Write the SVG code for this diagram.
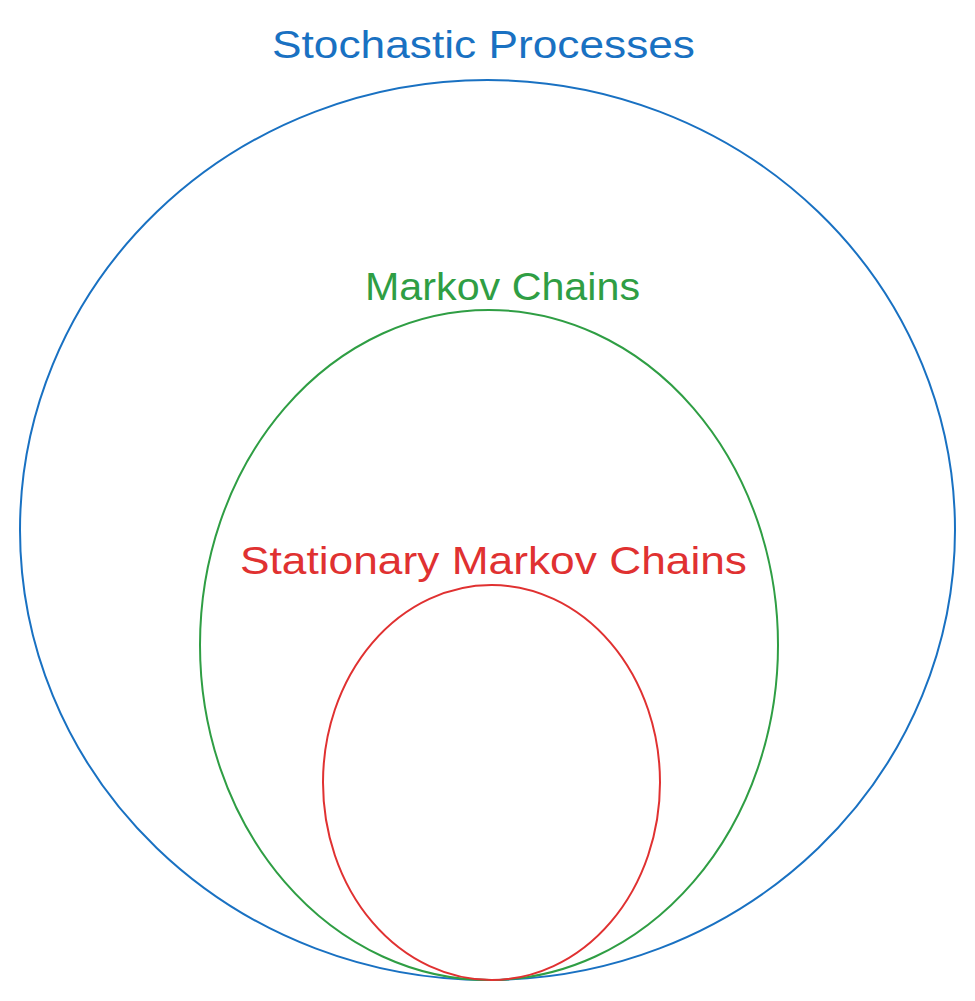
<svg xmlns="http://www.w3.org/2000/svg" width="975" height="1001" viewBox="0 0 975 1001">
  <style>
    .set { fill: none; stroke-width: 2; }
    .lbl { font-family: "Liberation Sans", "DejaVu Sans", sans-serif; font-size: 38px; text-anchor: middle; }
  </style>
  <rect width="975" height="1001" fill="#ffffff"/>
  <g id="stochastic-processes">
    <ellipse class="set" cx="487.5" cy="530" rx="467.5" ry="450" stroke="#1971c2"/>
    <text class="lbl" x="483.5" y="58" fill="#1971c2" textLength="423" lengthAdjust="spacingAndGlyphs">Stochastic Processes</text>
  </g>
  <g id="markov-chains">
    <ellipse class="set" cx="489" cy="645" rx="289" ry="335" stroke="#2f9e44"/>
    <text class="lbl" x="502.5" y="300" fill="#2f9e44" textLength="275" lengthAdjust="spacingAndGlyphs">Markov Chains</text>
  </g>
  <g id="stationary-markov-chains">
    <ellipse class="set" cx="491.5" cy="782.5" rx="168.5" ry="197.5" stroke="#e03131"/>
    <text class="lbl" x="493.5" y="574" fill="#e03131" textLength="507" lengthAdjust="spacingAndGlyphs">Stationary Markov Chains</text>
  </g>
  <g id="connectors"></g>
</svg>
